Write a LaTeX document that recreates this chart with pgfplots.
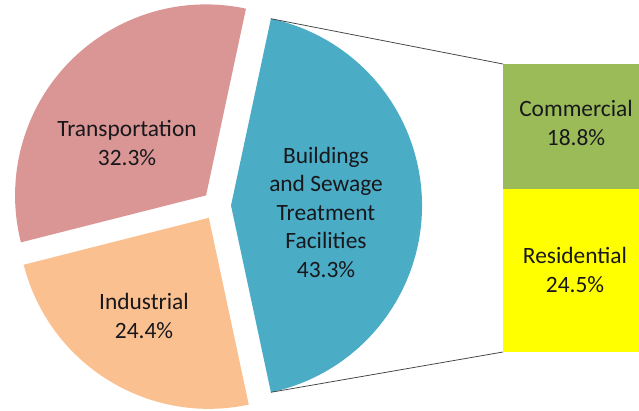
\documentclass[border=0pt]{standalone}
\usepackage{pgfplots}
\pgfplotsset{compat=1.18}
\usepackage{fontspec}
\setmainfont{Carlito}
\definecolor{cTrans}{RGB}{217,150,148}
\definecolor{cInd}{RGB}{250,192,144}
\definecolor{cBld}{RGB}{75,172,198}
\definecolor{cCom}{RGB}{155,187,89}
\definecolor{cRes}{RGB}{255,255,0}
\definecolor{cTxt}{RGB}{24,24,28}
\definecolor{cLine}{RGB}{64,64,64}
\begin{document}
\begin{tikzpicture}
\useasboundingbox (0,0) rectangle (639pt,410pt);
% shares of the pie (percent)
\pgfmathsetmacro{\pB}{43.3}
\pgfmathsetmacro{\pT}{32.3}
\pgfmathsetmacro{\pI}{24.4}
% shares of the bar (percent)
\pgfmathsetmacro{\pC}{18.8}
\pgfmathsetmacro{\pR}{24.5}
% angles
\pgfmathsetmacro{\aB}{-1.8*\pB}
\pgfmathsetmacro{\aBe}{1.8*\pB}
\pgfmathsetmacro{\aTe}{\aBe+3.6*\pT}
\pgfmathsetmacro{\aIe}{\aTe+3.6*\pI}
\pgfmathsetmacro{\mT}{(\aBe+\aTe)/2}
\pgfmathsetmacro{\mI}{(\aTe+\aIe)/2}
% geometry
\def\cx{216.5}\def\cy{204.5}\def\r{191}\def\e{14.5}
\pgfmathsetmacro{\bx}{\cx+\e}
\pgfmathsetmacro{\by}{\cy}
\pgfmathsetmacro{\tx}{\cx+\e*cos(\mT)}
\pgfmathsetmacro{\ty}{\cy+\e*sin(\mT)}
\pgfmathsetmacro{\ix}{\cx+\e*cos(\mI)}
\pgfmathsetmacro{\iy}{\cy+\e*sin(\mI)}
\pgfmathsetmacro{\topx}{\bx+\r*cos(\aBe)}
\pgfmathsetmacro{\topy}{\by+\r*sin(\aBe)}
\pgfmathsetmacro{\botx}{\bx+\r*cos(\aB)}
\pgfmathsetmacro{\boty}{\by+\r*sin(\aB)}
% bar
\def\barL{503}\def\barB{58}\def\barT{346}
\pgfmathsetmacro{\barM}{\barT-(\barT-\barB)*\pC/(\pC+\pR)}
\begin{axis}[scale only axis, width=639pt, height=410pt,
  xmin=0, xmax=639, ymin=0, ymax=410,
  axis lines=none, ticks=none, clip=true,
  at={(0,0)}, anchor=south west]
\fill[cBld] (axis cs:\bx,\by) -- ++(\aB:\r pt) arc[start angle=\aB, end angle=\aBe, radius=\r pt] -- cycle;
\fill[cTrans] (axis cs:\tx,\ty) -- ++(\aBe:\r pt) arc[start angle=\aBe, end angle=\aTe, radius=\r pt] -- cycle;
\fill[cInd] (axis cs:\ix,\iy) -- ++(\aTe:\r pt) arc[start angle=\aTe, end angle=\aIe, radius=\r pt] -- cycle;
\fill[cCom] (axis cs:\barL,\barM) rectangle (axis cs:639,\barT);
\fill[cRes] (axis cs:\barL,\barB) rectangle (axis cs:639,\barM);
\draw[cLine, line width=0.75pt] (axis cs:\topx,\topy) -- (axis cs:\barL,\barT);
\draw[cLine, line width=0.75pt] (axis cs:\botx,\boty) -- (axis cs:\barL,\barB);
\begin{scope}[every node/.style={align=center, text=cTxt, font=\fontsize{23.4}{28.5}\selectfont}]
\node at (axis cs:127,267) {Transportation\\32.3\%};
\node at (axis cs:144,94) {Industrial\\24.4\%};
\node at (axis cs:326,198) {Buildings\\and Sewage\\Treatment\\Facilities\\43.3\%};
\node at (axis cs:576,287) {Commercial\\18.8\%};
\node at (axis cs:575,140) {Residential\\24.5\%};
\end{scope}
\end{axis}
\end{tikzpicture}
\end{document}
